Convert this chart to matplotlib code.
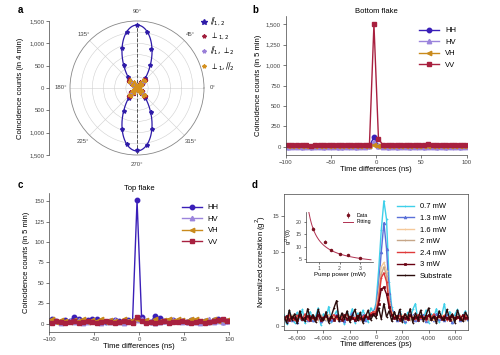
import numpy as np
import matplotlib.pyplot as plt
from matplotlib.ticker import FuncFormatter

plt.rcParams['font.family'] = ['Liberation Sans', 'DejaVu Sans']
plt.rcParams['font.size'] = 5
plt.rcParams['axes.linewidth'] = 0.5

# ---- panel a: polar coincidence counts (angle in degrees, step 10)
ang_deg = np.arange(0, 360, 10)
par12 = [15, 10, 15, 25, 100, 290, 600, 940, 1280,
         1410, 1270, 960, 600, 330, 100, 25, 15, 10,
         15, 10, 15, 25, 95, 285, 590, 970, 1270,
         1390, 1290, 980, 610, 280, 105, 25, 15, 10]
perp12 = [25, 35, 75, 165, 265, 255, 150, 60, 30,
          20, 40, 70, 155, 270, 260, 160, 65, 30,
          25, 35, 80, 170, 275, 250, 145, 55, 25,
          20, 40, 70, 160, 260, 265, 155, 65, 35]
par1_perp2 = [15, 25, 50, 120, 200, 195, 115, 45, 20,
              15, 25, 55, 125, 205, 190, 110, 45, 20,
              15, 30, 55, 120, 195, 190, 115, 50, 20,
              15, 25, 50, 115, 190, 200, 120, 50, 25]
perp1_par2 = [20, 30, 60, 140, 230, 225, 135, 55, 25,
              20, 30, 65, 145, 235, 220, 130, 55, 25,
              20, 35, 65, 140, 230, 220, 130, 55, 25,
              20, 30, 60, 135, 225, 230, 140, 60, 25]
fit_amp, fit_off, fit_pow = 1400, 10, 6

# ---- panels b, c: time bins (ns)
t_ns = np.arange(-102.5, 103, 5)
b_hh = [5, 3, 6, 4, 2, 5, 3, 4, 6, 3, 4, 5, 2, 3, 6, 4, 3, 5, 4, 8,
        120, 12, 4, 3, 5, 2, 4, 6, 3, 4, 5, 3, 4, 6, 2, 5, 3, 4, 5, 3, 4, 3]
b_hv = [2, 1, 3, 2, 1, 2, 3, 1, 2, 2, 3, 1, 2, 2, 1, 3, 2, 1, 2, 4,
        65, 6, 2, 1, 3, 2, 1, 2, 3, 1, 2, 3, 1, 2, 2, 1, 3, 2, 1, 2, 3, 2]
b_vh = [8, 6, 9, 7, 8, 6, 10, 7, 8, 9, 7, 8, 6, 9, 7, 8, 10, 9, 7, 8,
        25, 10, 7, 8, 6, 9, 7, 8, 6, 9, 8, 7, 9, 6, 8, 7, 9, 6, 8, 7, 8, 9]
b_vv = [18, 20, 17, 22, 19, 21, 16, 23, 20, 18, 22, 19, 17, 21, 24, 27, 28, 25, 21, 18,
        1500, 100, 19, 22, 18, 20, 23, 17, 21, 19, 22, 20, 30, 18, 21, 19, 24, 17, 22, 28, 20, 19]

c_hh = [4, 6, 3, 2, 4, 3, 8, 6, 3, 4, 5, 5, 3, 2, 3, 4, 3, 2, 4, 3,
        151, 8, 3, 2, 9, 7, 3, 2, 4, 3, 3, 2, 4, 3, 2, 3, 2, 4, 5, 2, 3, 4]
c_hv = [2, 4, 3, 1, 2, 3, 2, 4, 1, 2, 3, 2, 1, 3, 2, 4, 2, 1, 3, 2,
        4, 5, 2, 3, 1, 2, 3, 2, 4, 3, 2, 3, 4, 2, 1, 3, 5, 2, 3, 2, 3, 2]
c_vh = [3, 5, 2, 4, 3, 2, 4, 3, 5, 2, 4, 3, 5, 2, 4, 3, 2, 5, 3, 4,
        6, 3, 4, 2, 5, 3, 4, 6, 3, 5, 4, 3, 5, 6, 3, 4, 2, 5, 3, 4, 4, 3]
c_vv = [2, 1, 3, 2, 1, 2, 3, 1, 2, 3, 2, 1, 2, 3, 2, 1, 2, 3, 2, 1,
        8, 3, 1, 2, 1, 2, 3, 1, 2, 2, 3, 2, 1, 2, 3, 1, 2, 3, 4, 5, 3, 2]

# ---- panel d: time bins (ps), 200 ps wide
t_ps = np.arange(-7000, 7001, 200)
d_07 = [1.5, 0.2, 2.0, 1.1, 0.4, 1.8, 0.9, 2.2, 0.3, 1.4,
        1.9, 0.6, 1.2, 2.4, 0.1, 1.6, 1.0, 2.6, 0.5, 1.3,
        2.0, 0.8, 1.5, 0.2, 1.9, 1.1, 2.3, 0.4, 1.7, 0.9,
        2.1, 1.3, 0.5, 2.4, 1.8,
        3.0, 7.5, 13.0, 17.0, 14.5, 6.0, 2.5,
        1.4, 0.7, 2.0, 1.2, 0.3, 1.8, 1.0, 2.2,
        3.0, 0.6, 1.5, 0.9, 2.1, 0.4, 1.6, 1.2, 2.3, 0.5,
        1.4, 3.0, 0.8, 1.9, 0.3, 1.5, 2.2, 0.9, 1.3, 2.0, 0.7]
d_13 = [1.0, 0.6, 1.4, 0.8, 1.2, 0.5, 1.5, 0.9, 1.1, 0.7,
        1.3, 0.8, 1.0, 1.6, 0.6, 1.2, 0.9, 1.4, 0.7, 1.1,
        1.5, 0.8, 1.2, 0.6, 1.3, 1.0, 1.7, 0.7, 1.1, 0.9,
        1.4, 0.8, 1.2, 1.6, 1.9,
        2.5, 5.5, 10.0, 14.0, 10.5, 4.5, 2.0,
        1.2, 0.8, 1.5, 0.9, 0.6, 1.3, 1.0, 1.4,
        0.7, 1.2, 1.0, 1.5, 0.6, 1.1, 1.3, 0.8, 1.6, 0.9,
        1.1, 0.7, 1.4, 1.0, 0.5, 1.2, 1.5, 0.8, 1.0, 1.3, 0.9]
d_16 = [1.1, 0.8, 1.3, 0.9, 1.2, 0.7, 1.4, 1.0, 0.8, 1.3,
        1.0, 1.2, 0.7, 1.4, 0.9, 1.1, 0.8, 1.5, 1.0, 1.2,
        0.9, 1.3, 0.8, 1.1, 1.4, 0.7, 1.2, 1.0, 1.3, 0.8,
        1.1, 1.4, 0.9, 1.5, 1.8,
        2.2, 4.5, 8.0, 8.6, 7.5, 3.5, 1.8,
        1.3, 0.9, 1.1, 1.4, 0.8, 1.2, 1.0, 1.3,
        0.9, 1.1, 1.4, 0.8, 1.2, 1.0, 1.3, 0.7, 1.2, 1.0,
        1.4, 0.9, 1.1, 1.3, 0.8, 1.2, 1.0, 1.4, 0.9, 1.1, 1.2]
d_20 = [0.9, 1.2, 1.0, 1.4, 0.8, 1.1, 1.3, 0.7, 1.2, 1.0,
        1.3, 0.9, 1.1, 0.8, 1.4, 1.0, 1.2, 0.9, 1.3, 0.8,
        1.1, 1.4, 0.9, 1.2, 0.8, 1.3, 1.0, 1.1, 0.7, 1.4,
        1.0, 1.2, 1.3, 1.4, 1.7,
        2.0, 4.0, 7.0, 8.0, 6.8, 3.2, 1.6,
        1.1, 1.3, 0.9, 1.2, 1.0, 1.4, 0.8, 1.1,
        1.3, 0.9, 1.2, 1.0, 1.4, 0.8, 1.1, 1.3, 0.9, 1.2,
        1.0, 1.3, 0.8, 1.2, 1.1, 0.9, 1.4, 1.0, 1.2, 0.8, 1.1]
d_24 = [1.2, 0.8, 1.5, 1.0, 0.7, 1.4, 1.1, 0.9, 1.6, 0.8,
        1.3, 1.0, 0.7, 1.5, 1.2, 0.9, 1.4, 0.8, 1.1, 1.5,
        1.0, 0.7, 1.3, 1.1, 1.6, 0.8, 1.2, 1.0, 1.4, 0.9,
        1.2, 1.5, 1.0, 1.7, 1.9,
        1.8, 3.5, 6.5, 7.2, 6.0, 3.0, 1.5,
        1.2, 0.9, 1.4, 1.0, 1.6, 0.8, 1.3, 1.1,
        0.9, 1.5, 1.0, 1.2, 0.8, 1.4, 1.1, 1.6, 0.9, 1.3,
        1.0, 1.4, 0.8, 1.2, 1.5, 0.9, 1.1, 1.3, 0.8, 1.4, 1.0]
d_30 = [1.0, 1.3, 0.8, 1.2, 1.0, 0.7, 1.4, 0.9, 1.1, 1.3,
        0.8, 1.2, 1.0, 1.4, 0.7, 1.1, 1.3, 0.9, 1.2, 0.8,
        1.3, 1.0, 0.8, 1.4, 0.9, 1.2, 1.1, 0.7, 1.3, 1.0,
        0.9, 1.3, 1.1, 1.4, 1.6,
        1.6, 3.0, 5.0, 5.2, 4.3, 2.5, 1.4,
        1.0, 1.3, 0.8, 1.2, 1.1, 0.9, 1.4, 1.0,
        1.2, 0.8, 1.3, 1.0, 1.1, 1.4, 0.9, 1.2, 1.0, 1.3,
        0.9, 1.2, 1.1, 0.8, 1.3, 1.0, 1.2, 0.9, 1.4, 1.1, 1.0]
d_sub = [1.2, 0.4, 2.1, 0.8, 1.6, 0.3, 2.0, 1.0, 0.6, 2.3,
         0.9, 1.5, 0.5, 2.2, 1.1, 0.7, 1.9, 0.4, 1.3, 2.4,
         3.4, 0.6, 1.7, 0.9, 2.0, 0.5, 1.4, 2.2, 0.7, 1.8,
         0.4, 1.2, 2.1, 0.8, 1.5,
         1.1, 2.4, 0.9, 3.0, 1.2, 2.0, 0.6,
         1.9, 0.8, 2.2, 0.5, 1.6, 1.0, 2.3, 0.4,
         1.7, 0.9, 2.1, 0.6, 1.4, 2.4, 0.8, 1.3, 0.3, 2.0,
         1.1, 0.7, 2.2, 0.9, 1.6, 0.4, 2.1, 1.0, 0.6, 1.8, 1.2]

# inset: g2(0) vs pump power
pump_mw = [0.7, 1.3, 1.6, 2.0, 2.4, 3.0]
g2_zero = [17.2, 12.1, 8.8, 7.0, 6.8, 5.3]
g2_err = [0.6, 0.5, 0.4, 0.4, 0.3, 0.3]
inset_a, inset_b = 10.9, 1.7

c_hh_col = '#3a1fb8'
c_hv_col = '#9b84dc'
c_vh_col = '#c98a1c'
c_vv_col = '#a8203f'
spine_col = '#444444'


def comma(v, p):
    return f'{v:,.0f}'.replace('-', '\u2212')


def style(ax):
    ax.tick_params(labelsize=4.3, length=2, width=0.5, pad=1.5, colors=spine_col)
    for s in ax.spines.values():
        s.set_color(spine_col)


fig = plt.figure(figsize=(5, 3.55), dpi=100)

# ----- a
axl = fig.add_axes([0.0986, 0.5634, 0.04, 0.3775])
axl.set_facecolor('none')
for s in ['top', 'right', 'bottom']:
    axl.spines[s].set_visible(False)
axl.set_xticks([])
axl.set_ylim(-1500, 1500)
axl.set_yticks(np.arange(-1500, 1501, 500))
axl.yaxis.set_major_formatter(FuncFormatter(lambda v, p: f'{abs(v):,.0f}'))
style(axl)
axl.set_ylabel('Coincidence counts (in 4 min)', fontsize=5.5, labelpad=4)

axp = fig.add_axes([0.14, 0.5634, 0.268, 0.3775], projection='polar')
axp.set_ylim(0, 1500)
axp.set_yticks([250, 500, 750, 1000, 1250])
axp.set_yticklabels([])
axp.set_thetagrids(range(0, 360, 45), [f'{a}°' for a in range(0, 360, 45)])
axp.tick_params(labelsize=4.3, pad=-4, colors=spine_col)
axp.grid(color='#d0d0d0', lw=0.4)
axp.spines['polar'].set_color('#888888')
axp.spines['polar'].set_linewidth(0.6)
axp.plot([np.pi / 2, np.pi / 2], [0, 1500], '--', color='#555555', lw=0.7)
axp.plot([3 * np.pi / 2, 3 * np.pi / 2], [0, 1500], '--', color='#555555', lw=0.7)

th = np.deg2rad(np.append(ang_deg, 360))
th_fit = np.linspace(0, 2 * np.pi, 721)
r_fit = fit_amp * np.abs(np.cos(th_fit - np.pi / 2)) ** fit_pow + fit_off
axp.plot(th_fit, r_fit, color='#2e1ba8', lw=0.9)
axp.plot(th, np.append(par12, par12[0]), '*', color='#2e1ba8', ms=3,
         label=r'$/\!/_{1,2}$')
for vals, col, lab in [(perp12, '#a01e3c', r'$\perp_{1,2}$'),
                       (par1_perp2, '#9a7fd8', r'$/\!/_1,\perp_2$'),
                       (perp1_par2, '#d4901e', r'$\perp_1,/\!/_2$')]:
    axp.plot(th, np.append(vals, vals[0]), '-*', color=col, lw=0.6, ms=2.2, label=lab)
axp.legend(loc='upper left', bbox_to_anchor=(0.96, 1.06), frameon=False, fontsize=5.5,
           handlelength=0.6, handletextpad=0.5, labelspacing=0.35, borderaxespad=0,
           markerscale=1.3)

# ----- b and c
series_bc = [('HH', 'o', c_hh_col), ('HV', '^', c_hv_col),
             ('VH', '<', c_vh_col), ('VV', 's', c_vv_col)]


def time_panel(rect, data, title, ylim, yticks, ylabel):
    ax = fig.add_axes(rect)
    for (lab, mk, col), vals in zip(series_bc, data):
        ax.plot(t_ns, vals, marker=mk, color=col, lw=1.0, ms=3.2, label=lab)
    ax.set_xlim(-100, 100)
    ax.set_ylim(*ylim)
    ax.set_yticks(yticks)
    ax.set_xticks([-100, -50, 0, 50, 100])
    ax.yaxis.set_major_formatter(FuncFormatter(comma))
    ax.xaxis.set_major_formatter(FuncFormatter(comma))
    ax.spines['top'].set_visible(False)
    ax.spines['right'].set_visible(False)
    style(ax)
    ax.set_title(title, fontsize=5.5, pad=2)
    ax.set_xlabel('Time differences (ns)', fontsize=5.5, labelpad=1)
    ax.set_ylabel(ylabel, fontsize=5.5, labelpad=3)
    ax.legend(loc='upper right', bbox_to_anchor=(0.98, 0.97), frameon=False, fontsize=5.5,
              handlelength=2.6, handletextpad=0.8, labelspacing=0.55)
    return ax


time_panel([0.5714, 0.5634, 0.362, 0.3915], [b_hh, b_hv, b_vh, b_vv], 'Bottom flake',
           (-100, 1600), np.arange(0, 1501, 250), 'Coincidence counts (in 5 min)')
time_panel([0.0986, 0.0656, 0.36, 0.3907], [c_hh, c_hv, c_vh, c_vv], 'Top flake',
           (-10, 160), np.arange(0, 151, 25), 'Coincidence counts (in 5 min)')

# ----- d
axd = fig.add_axes([0.568, 0.0704, 0.368, 0.3845])
d_series = [(d_07, '0.7 mW', '#3fd0ea', '+'), (d_13, '1.3 mW', '#5a70d8', '^'),
            (d_16, '1.6 mW', '#f5c99a', '+'), (d_20, '2 mW', '#c6a688', '+'),
            (d_24, '2.4 mW', '#e03a3a', '+'), (d_30, '3 mW', '#6a0012', 's'),
            (d_sub, 'Substrate', '#2a0c0c', '+')]
for vals, lab, col, mk in d_series:
    axd.plot(t_ps, vals, marker=mk, color=col, lw=1.0, ms=2, mew=0.5, label=lab)
axd.set_xlim(-7000, 7000)
axd.set_ylim(-0.6, 18)
axd.set_xticks(np.arange(-6000, 6001, 2000))
axd.set_yticks([0, 5, 10, 15])
axd.xaxis.set_major_formatter(FuncFormatter(comma))
style(axd)
axd.set_xlabel('Time differences (ps)', fontsize=5.5, labelpad=1)
axd.set_ylabel('Normalized correlation (g$^{2}$)', fontsize=5.5, labelpad=3)
axd.legend(loc='upper right', bbox_to_anchor=(0.955, 0.98), frameon=False, fontsize=5.5,
           handlelength=2.2, handletextpad=0.8, labelspacing=0.55)

axi = fig.add_axes([0.612, 0.2628, 0.134, 0.14])
p_fit = np.linspace(0.45, 3.55, 200)
axi.plot(p_fit, inset_a / p_fit + inset_b, color='#b03050', lw=0.7, label='Fitting')
axi.errorbar(pump_mw, g2_zero, yerr=g2_err, fmt='o', color='#7a1020', ms=1.5,
             elinewidth=0.5, capsize=0, label='Data')
axi.set_xlim(0.35, 3.65)
axi.set_ylim(4, 24)
axi.set_xticks([1, 2, 3])
axi.set_yticks([5, 10, 15, 20])
axi.spines['top'].set_visible(False)
axi.spines['right'].set_visible(False)
style(axi)
axi.tick_params(labelsize=3.8, length=1.5)
axi.set_xlabel('Pump power (mW)', fontsize=4.5, labelpad=1)
axi.set_ylabel('g$^{(2)}$(0)', fontsize=4, labelpad=1)
h, l = axi.get_legend_handles_labels()
axi.legend(h[::-1], l[::-1], loc='upper right', bbox_to_anchor=(1.05, 1.08), frameon=False,
           fontsize=3.8, handlelength=1.8, labelspacing=0.3)

# panel letters
for x, y, s in [(0.04, 0.972, 'a'), (0.51, 0.972, 'b'), (0.04, 0.479, 'c'), (0.51, 0.479, 'd')]:
    fig.text(x, y, s, fontsize=7, fontweight='bold', va='center', ha='center')

fig.savefig('out.png', dpi=100)
